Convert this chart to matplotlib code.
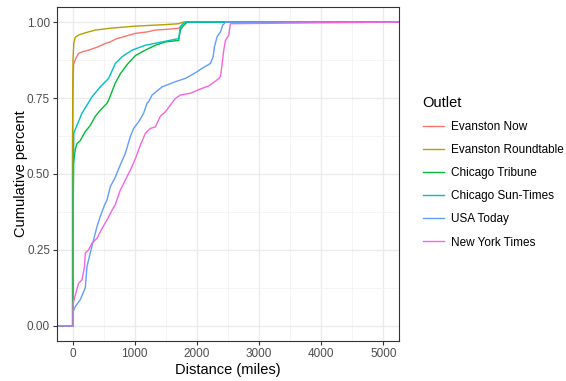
import numpy as np
import matplotlib.pyplot as plt
from matplotlib.ticker import MultipleLocator

outlets = ['Evanston Now', 'Evanston Roundtable', 'Chicago Tribune',
           'Chicago Sun-Times', 'USA Today', 'New York Times']
colors = ['#F8766D', '#B79F00', '#00BA38', '#00BFC4', '#619CFF', '#F564E3']

# distance (miles) / cumulative share
ev_now_d = [0, 3, 8, 16, 50, 97, 150, 258, 400, 527, 607, 700, 1010, 1200, 1332, 1550, 1707, 1760, 1800]
ev_now_c = [0.60, 0.70, 0.80, 0.86, 0.88, 0.897, 0.902, 0.908, 0.918, 0.93, 0.935, 0.945, 0.963, 0.968,
            0.974, 0.977, 0.98, 0.99, 1.0]

ev_rt_d = [0, 3, 8, 20, 43, 100, 205, 366, 600, 1010, 1300, 1493, 1707, 1780]
ev_rt_c = [0.55, 0.75, 0.88, 0.93, 0.95, 0.958, 0.965, 0.974, 0.98, 0.987, 0.99, 0.992, 0.995, 1.0]

trib_d = [12, 16, 43, 71, 124, 205, 285, 366, 446, 554, 580, 688, 768, 876, 1010, 1171, 1332, 1493,
          1707, 1734, 1790, 1843]
trib_c = [0.40, 0.535, 0.58, 0.60, 0.61, 0.64, 0.66, 0.69, 0.71, 0.733, 0.743, 0.80, 0.83, 0.86, 0.89,
          0.908, 0.924, 0.935, 0.94, 0.975, 0.99, 1.0]

sun_d = [12, 20, 71, 151, 232, 312, 446, 580, 688, 795, 957, 1171, 1440, 1707, 1734, 1780, 1815]
sun_c = [0.45, 0.635, 0.66, 0.70, 0.727, 0.754, 0.787, 0.815, 0.864, 0.886, 0.908, 0.924, 0.935, 0.946,
         0.985, 0.995, 1.0]

usa_d = [10, 43, 124, 205, 232, 285, 338, 393, 446, 515, 554, 607, 688, 768, 849, 929, 982, 1063, 1143,
         1198, 1224, 1279, 1440, 1655, 1815, 1948, 2084, 2217, 2261, 2282, 2325, 2379, 2415, 2460]
usa_c = [0.047, 0.063, 0.086, 0.125, 0.195, 0.24, 0.283, 0.327, 0.36, 0.398, 0.414, 0.458, 0.49, 0.53,
         0.568, 0.623, 0.65, 0.672, 0.70, 0.733, 0.738, 0.76, 0.787, 0.804, 0.815, 0.83, 0.848, 0.864,
         0.886, 0.919, 0.952, 0.968, 0.99, 1.0]

nyt_d = [10, 43, 97, 151, 193, 205, 258, 312, 393, 473, 554, 634, 688, 768, 849, 929, 1010, 1090, 1171,
         1251, 1332, 1412, 1493, 1573, 1655, 1734, 1895, 2056, 2190, 2325, 2379, 2406, 2432, 2459, 2512,
         2539, 5000]
nyt_c = [0.075, 0.10, 0.14, 0.151, 0.195, 0.24, 0.25, 0.272, 0.288, 0.32, 0.349, 0.38, 0.40, 0.447, 0.48,
         0.513, 0.55, 0.595, 0.634, 0.65, 0.655, 0.69, 0.705, 0.727, 0.749, 0.76, 0.766, 0.78, 0.79, 0.81,
         0.82, 0.864, 0.908, 0.94, 0.957, 0.995, 1.0]

series = [(ev_now_d, ev_now_c), (ev_rt_d, ev_rt_c), (trib_d, trib_c),
          (sun_d, sun_c), (usa_d, usa_c), (nyt_d, nyt_c)]

plt.rcParams['font.family'] = ['Liberation Sans', 'DejaVu Sans']

fig = plt.figure(figsize=(5.66, 3.81), dpi=100)
ax = fig.add_axes([57 / 566, 1 - 341 / 381, (399 - 57) / 566, (341 - 7) / 381])

xmin, xmax = -250, 5250
for name, col, (d, c) in zip(outlets, colors, series):
    # pad like stat_ecdf: 0 before first value, 1 after last
    x = np.concatenate([[xmin, d[0]], d, [xmax]])
    y = np.concatenate([[0, 0], c, [1]])
    ax.plot(x, y, color=col, lw=1.0, label=name)

ax.set_xlim(xmin, xmax)
ax.set_ylim(-0.05, 1.05)
ax.xaxis.set_major_locator(MultipleLocator(1000))
ax.xaxis.set_minor_locator(MultipleLocator(500))
ax.yaxis.set_major_locator(MultipleLocator(0.25))
ax.yaxis.set_minor_locator(MultipleLocator(0.125))
ax.set_yticklabels(['{:.2f}'.format(v) for v in ax.get_yticks()])
ax.grid(True, which='major', color='#EBEBEB', lw=1.0)
ax.grid(True, which='minor', color='#F3F3F3', lw=0.6)
ax.set_axisbelow(True)
for s in ax.spines.values():
    s.set_color('#333333')
    s.set_linewidth(0.8)
ax.tick_params(which='major', length=3, width=0.8, color='#333333',
               labelsize=8.8 * 0.96, labelcolor='#4D4D4D', pad=2)
ax.tick_params(which='minor', length=0)

ax.set_xlabel('Distance (miles)', fontsize=11 * 0.96, labelpad=2)
ax.set_ylabel('Cumulative percent', fontsize=11 * 0.96, labelpad=-1)

leg = fig.legend(loc='upper left', bbox_to_anchor=(418 / 566, 1 - 91 / 381), frameon=False,
                 title='Outlet', fontsize=8.8 * 0.96, title_fontsize=11 * 0.96,
                 handlelength=1.8, handletextpad=0.6, labelspacing=0.95, alignment='left',
                 borderaxespad=0)

fig.savefig('out.png', dpi=100)
